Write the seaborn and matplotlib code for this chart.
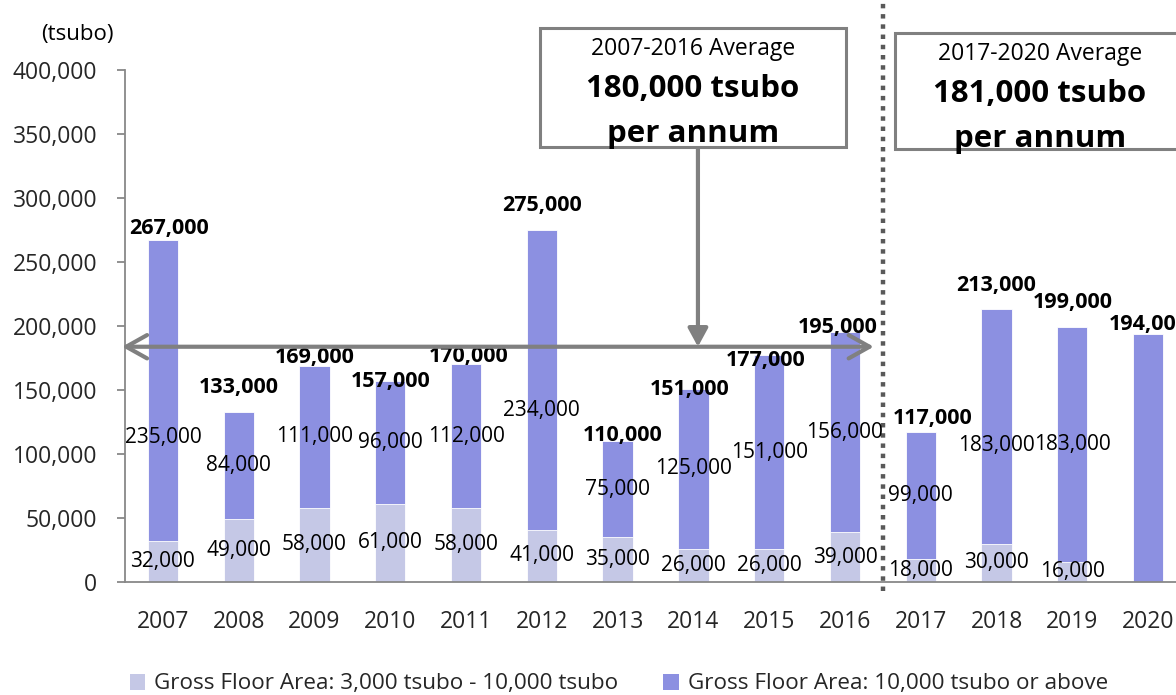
import matplotlib
matplotlib.use("Agg")
import matplotlib.pyplot as plt
from matplotlib.patches import Patch, Rectangle, FancyArrowPatch
import seaborn as sns
import pandas as pd

# Annual supply of large office buildings (tsubo)
years = ["2007", "2008", "2009", "2010", "2011", "2012", "2013",
         "2014", "2015", "2016", "2017", "2018", "2019", "2020"]
small_gfa = [32000, 49000, 58000, 61000, 58000, 41000, 35000,
             26000, 26000, 39000, 18000, 30000, 16000, 0]
large_gfa = [235000, 84000, 111000, 96000, 112000, 234000, 75000,
             125000, 151000, 156000, 99000, 183000, 183000, 194000]
totals = [267000, 133000, 169000, 157000, 170000, 275000, 110000,
          151000, 177000, 195000, 117000, 213000, 199000, 194000]
avg_2007_2016 = 180000
avg_2017_2020 = 181000
legend_labels = ["Gross Floor Area: 3,000 tsubo - 10,000 tsubo",
                 "Gross Floor Area: 10,000 tsubo or above"]

# label placement tweaks (layout only)
total_lift = [8800, 18600, 6000, -700, 5800, 19500, 4800,
              -1000, -3600, 4200, 11100, 19000, 19000, 6800]
total_dx_px = [6, 0, 0, 0, 3, 0, 5, -4, -4, -7, 12, 0, 0, 1]
large_frac = [0.345, 0.5, 0.5, 0.5, 0.5, 0.397, 0.5,
              0.5, 0.5, 0.5, 0.5, 0.42, 0.5, 0.5]
arrow_lift = 3800  # keeps the span arrow clear of the total labels

LIGHT = "#C5C8E6"
DARK = "#8C90E1"
GREY = "#808080"
AXIS_GREY = "#888888"

sns.set_theme(style="white")
plt.rcParams["font.family"] = ["Open Sans", "DejaVu Sans"]

df = pd.DataFrame({"year": years, "small": small_gfa,
                   "large": large_gfa, "total": totals})

fig = plt.figure(figsize=(11.76, 6.95), dpi=100)
ax = fig.add_axes([125 / 1176, 1 - 582 / 695, 1061 / 1176, 512 / 695])

sns.barplot(data=df, x="year", y="total", color=DARK, width=0.4,
            saturation=1, ax=ax, edgecolor="white", linewidth=0.6)
sns.barplot(data=df, x="year", y="small", color=LIGHT, width=0.4,
            saturation=1, ax=ax, edgecolor="white", linewidth=0.6)

ax.set_ylim(0, 400000)
ax.set_xlim(-0.5, len(years) - 0.5)
ax.set_yticks(range(0, 400001, 50000))
ax.set_yticklabels([f"{v:,}" for v in range(0, 400001, 50000)], fontsize=16.5)
ax.set_xticks(range(len(years)))
ax.set_xticklabels(years, fontsize=16.5)
ax.set_xticks([i - 0.5 for i in range(len(years) + 1)], minor=True)
ax.tick_params(axis="x", which="major", length=0, pad=20)
ax.tick_params(axis="x", which="minor", length=8, width=1.3, color=AXIS_GREY)
ax.tick_params(axis="y", length=6, width=1.3, color=AXIS_GREY, pad=14, left=True)
ax.set_xlabel("")
ax.set_ylabel("")
for side in ["top", "right"]:
    ax.spines[side].set_visible(False)
for side in ["left", "bottom"]:
    ax.spines[side].set_color(AXIS_GREY)
    ax.spines[side].set_linewidth(1.3)

# segment and total labels
for i in range(len(years)):
    if small_gfa[i] > 0:
        ax.text(i, small_gfa[i] / 2, f"{small_gfa[i]:,}", ha="center",
                va="center", fontsize=15, color="black", zorder=5)
        ax.text(i, small_gfa[i] + large_gfa[i] * large_frac[i],
                f"{large_gfa[i]:,}", ha="center", va="center",
                fontsize=15, color="black", zorder=5)
    ax.annotate(f"{totals[i]:,}", xy=(i, totals[i] + total_lift[i]),
                xytext=(total_dx_px[i], 0), textcoords="offset pixels",
                ha="center", va="center", fontsize=15.5, fontweight="bold",
                color="black", zorder=6, annotation_clip=False)

# period divider
ax.plot([9.5, 9.5], [-7000, 470000], color="#595959", lw=3.2,
        linestyle=(0, (1, 1.3)), dash_capstyle="butt", clip_on=False, zorder=4)

# average span arrow for 2007-2016
arrow_y = avg_2007_2016 + arrow_lift
span = FancyArrowPatch((-0.54, arrow_y), (9.38, arrow_y),
                       arrowstyle="<->,head_length=0.75,head_width=0.42",
                       mutation_scale=20, color=GREY, lw=3, zorder=7,
                       clip_on=False, shrinkA=0, shrinkB=0)
ax.add_patch(span)
drop = FancyArrowPatch((7.06, 340000), (7.06, arrow_y),
                       arrowstyle="-|>,head_length=0.55,head_width=0.3",
                       mutation_scale=20, color=GREY, lw=3, zorder=7,
                       clip_on=False, shrinkA=0, shrinkB=0)
ax.add_patch(drop)

# average boxes
box1 = Rectangle((540 / 1176, 1 - 147 / 695), 306 / 1176, 119 / 695,
                 transform=fig.transFigure, facecolor="white",
                 edgecolor=GREY, lw=2.2, zorder=8)
box2 = Rectangle((895 / 1176, 1 - 149 / 695), 300 / 1176, 116 / 695,
                 transform=fig.transFigure, facecolor="white",
                 edgecolor=GREY, lw=2.2, zorder=8, clip_on=False)
fig.add_artist(box1)
fig.add_artist(box2)

for cx, base, period, avg in [(693, 55, "2007-2016", avg_2007_2016),
                              (1040, 60, "2017-2020", avg_2017_2020)]:
    fig.text(cx / 1176, 1 - base / 695, f"{period} Average", ha="center",
             va="baseline", fontsize=16.5, color="black", zorder=9)
    fig.text(cx / 1176, 1 - (base + 42) / 695, f"{avg:,} tsubo", ha="center",
             va="baseline", fontsize=22.5, fontweight="bold", color="black", zorder=9)
    fig.text(cx / 1176, 1 - (base + 87) / 695, "per annum", ha="center",
             va="baseline", fontsize=22.5, fontweight="bold", color="black", zorder=9)

fig.text(77 / 1176, 1 - 40 / 695, "(tsubo)", ha="center", va="baseline",
         fontsize=16, color="black")

handles = [Patch(facecolor=LIGHT, edgecolor="none"),
           Patch(facecolor=DARK, edgecolor="none")]
fig.legend(handles, legend_labels, loc="center", ncol=2,
           bbox_to_anchor=(619 / 1176, 1 - 684 / 695), frameon=False,
           fontsize=16.2, handlelength=0.7, handleheight=0.7,
           handletextpad=0.4, columnspacing=2.0, borderaxespad=0)

fig.savefig("out.png", dpi=100)
